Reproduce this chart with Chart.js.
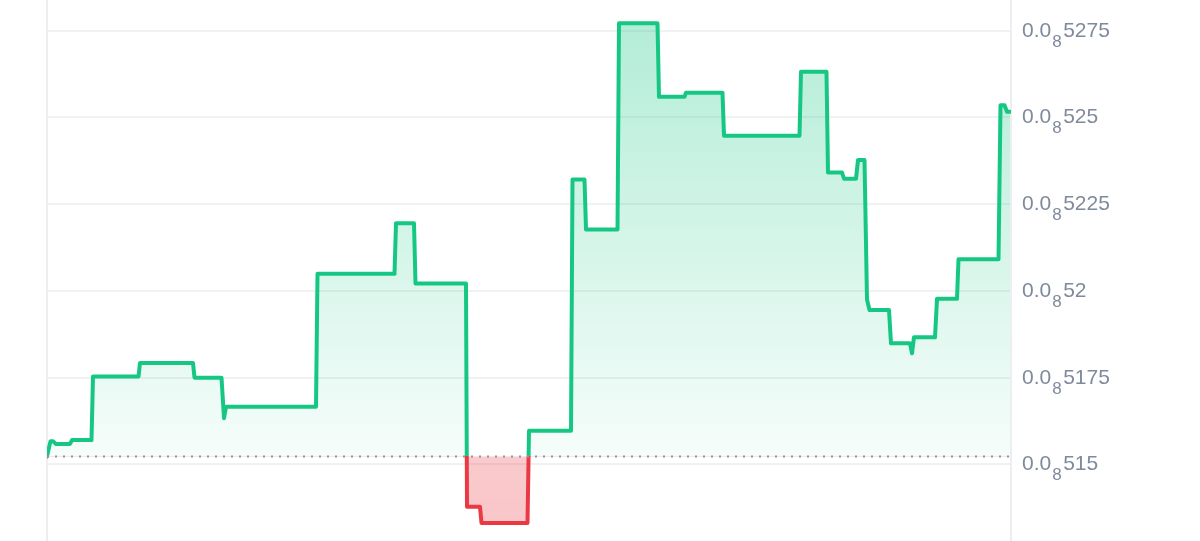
<!DOCTYPE html>
<html><head><meta charset="utf-8">
<script src="https://cdn.jsdelivr.net/npm/chart.js@4.4.1/dist/chart.umd.min.js"></script>
<style>html,body{margin:0;padding:0;background:#fff}#wrap{width:1200px;height:541px;position:relative}</style>
</head><body><div id="wrap"><canvas id="c"></canvas></div>
<script>
// time index of each sample (arbitrary units)
const times = [0, 3.5, 6, 9, 23, 25, 44.5, 46, 91.5, 93, 146, 147.5, 174.5, 177, 179, 269, 270.5, 347.5, 349, 367, 368.5, 419, 420, 433, 434.5, 480.5, 482, 524, 525.5, 537.5, 539, 570.5, 572, 610.5, 612, 637.5, 639, 675.5, 677, 752.5, 754, 779.5, 781, 795, 797, 809, 811, 817.5, 820, 822.5, 842, 844, 863, 865, 867, 888, 890, 910, 911.5, 951.5, 953.5, 957.5, 960, 963];
// price in units of 1e-9 (5.275 -> 0.0₈5275)
const prices = [5.1523, 5.1567, 5.1567, 5.1559, 5.1559, 5.1570, 5.1570, 5.1753, 5.1753, 5.1792, 5.1792, 5.1750, 5.1750, 5.1633, 5.1666, 5.1666, 5.2049, 5.2049, 5.2195, 5.2195, 5.2021, 5.2021, 5.1378, 5.1378, 5.1331, 5.1331, 5.1597, 5.1597, 5.2321, 5.2321, 5.2177, 5.2177, 5.2771, 5.2771, 5.2559, 5.2559, 5.2571, 5.2571, 5.2447, 5.2447, 5.2631, 5.2631, 5.2341, 5.2341, 5.2323, 5.2323, 5.2377, 5.2377, 5.1975, 5.1945, 5.1945, 5.1849, 5.1849, 5.1820, 5.1866, 5.1866, 5.1977, 5.1977, 5.2091, 5.2091, 5.2535, 5.2535, 5.2516, 5.2516];
const baselinePrice = 5.1523;
const tickValues = [5.15, 5.175, 5.2, 5.225, 5.25, 5.275];
const tickPrefix = '0.0';
const tickSubscript = '8';
const yMin = 5.12793, yMax = 5.28380;
const xMin = 0, xMax = 964;

const GREEN = '#16c784', RED = '#ea3943';

function splitStop(chart) {
  const a = chart.chartArea;
  const y = chart.scales.y.getPixelForValue(baselinePrice);
  return Math.min(1, Math.max(0, (y - a.top) / (a.bottom - a.top)));
}
function lineGradient(c) {
  const chart = c.chart, a = chart.chartArea;
  if (!a) return GREEN;
  const f = splitStop(chart);
  const g = chart.ctx.createLinearGradient(0, a.top, 0, a.bottom);
  g.addColorStop(0, GREEN); g.addColorStop(f, GREEN);
  g.addColorStop(f, RED); g.addColorStop(1, RED);
  return g;
}
function fillGradient(c) {
  const chart = c.chart, a = chart.chartArea;
  if (!a) return 'rgba(22,199,132,0.2)';
  const f = splitStop(chart);
  const g = chart.ctx.createLinearGradient(0, a.top, 0, a.bottom);
  g.addColorStop(0, 'rgba(22,199,132,0.34)');
  g.addColorStop(f, 'rgba(22,199,132,0.04)');
  g.addColorStop(f, 'rgba(234,57,67,0.27)');
  g.addColorStop(1, 'rgba(234,57,67,0.29)');
  return g;
}
function tickDigits(v) {
  return String(Math.round(v * 10000)).replace(/0+$/, '');
}
const labelPlugin = {
  id: 'subLabels',
  afterDraw(chart) {
    const s = chart.scales.y, ctx = chart.ctx;
    const mainFont = '21px "Liberation Sans", Arial, sans-serif';
    const subFont = '17px "Liberation Sans", Arial, sans-serif';
    ctx.save();
    ctx.fillStyle = '#808a9d';
    ctx.textAlign = 'left';
    ctx.textBaseline = 'alphabetic';
    s.ticks.forEach(t => {
      const py = s.getPixelForValue(t.value);
      let x = chart.chartArea.right + 11;
      ctx.font = mainFont;
      ctx.fillText(tickPrefix, x, py + 6);
      x += ctx.measureText(tickPrefix).width + 1;
      ctx.font = subFont;
      ctx.fillText(tickSubscript, x, py + 16);
      x += ctx.measureText(tickSubscript).width + 1.5;
      ctx.font = mainFont;
      ctx.fillText(tickDigits(t.value), x, py + 6);
    });
    ctx.restore();
  }
};

const pricePoints = times.map((t, i) => ({ x: t, y: prices[i] }));
const basePoints = [{ x: xMin, y: baselinePrice }, { x: xMax, y: baselinePrice }];

new Chart(document.getElementById('c'), {
  type: 'line',
  data: {
    datasets: [
      {
        label: 'open',
        data: basePoints,
        borderColor: '#8f96a2',
        borderWidth: 2,
        borderDash: [2, 6],
        pointRadius: 0,
        fill: false
      },
      {
        label: 'price',
        data: pricePoints,
        borderColor: lineGradient,
        backgroundColor: fillGradient,
        borderWidth: 4,
        borderJoinStyle: 'round',
        borderCapStyle: 'round',
        pointRadius: 0,
        tension: 0,
        fill: { value: baselinePrice }
      }
    ]
  },
  options: {
    responsive: true,
    maintainAspectRatio: false,
    animation: false,
    layout: { padding: { left: 47, right: 0, top: 0, bottom: 0 } },
    plugins: { legend: { display: false }, tooltip: { enabled: false } },
    scales: {
      x: {
        type: 'linear', min: xMin, max: xMax,
        ticks: { display: false },
        grid: { drawTicks: false, color: '#eceef1', lineWidth: 2 },
        border: { display: false },
        afterBuildTicks: s => { s.ticks = [{ value: xMin }]; }
      },
      y: {
        type: 'linear', position: 'right', min: yMin, max: yMax,
        ticks: { display: false },
        grid: { drawTicks: false, color: '#f0f1f3', lineWidth: 2 },
        border: { display: true, color: '#eceef1', width: 2 },
        afterBuildTicks: s => { s.ticks = tickValues.map(v => ({ value: v })); },
        afterFit: s => { s.width = 189; }
      }
    }
  },
  plugins: [labelPlugin]
});
</script>
</body></html>
